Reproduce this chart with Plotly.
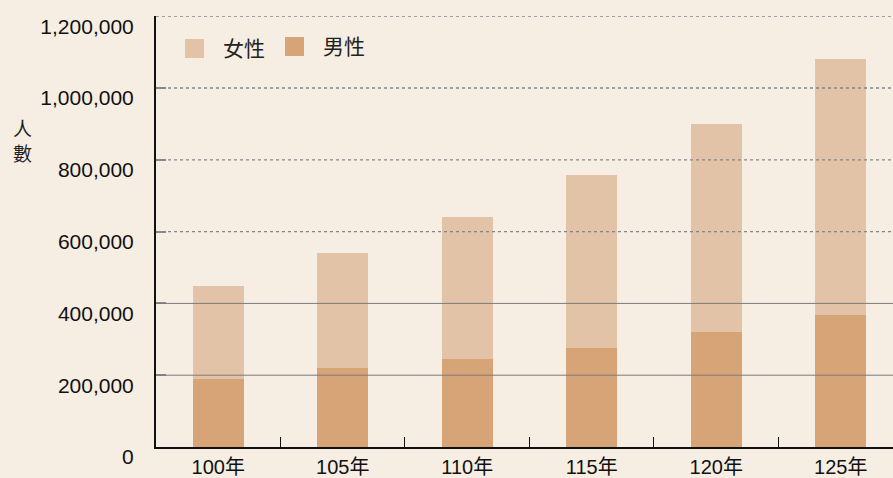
import plotly.graph_objects as go

categories = ["100年", "105年", "110年", "115年", "120年", "125年"]
male = [189000, 220000, 245000, 276000, 320000, 368000]
female = [259000, 320000, 396000, 482000, 580000, 713000]
y_ticks = [0, 200000, 400000, 600000, 800000, 1000000, 1200000]
y_tick_labels = ["0", "200,000", "400,000", "600,000", "800,000", "1,000,000", "1,200,000"]

BG = "#f6eee2"
C_MALE = "#d6a477"
C_FEMALE = "#e2c3a7"
FONT = "Liberation Sans, Arial, Noto Sans CJK TC, sans-serif"

W, H = 893, 478
ML, MR, MT, MB = 156, 0, 16, 31
PW, PH = W - ML - MR, H - MT - MB
Y_MAX = 1200000


def px_x(px):
    return (px - ML) / PW


def px_y(py):
    return (H - MB - py) / PH


fig = go.Figure()
fig.add_trace(go.Bar(x=categories, y=male, name="男性", marker_color=C_MALE,
                     width=0.41, showlegend=False, marker_line_width=0))
fig.add_trace(go.Bar(x=categories, y=female, name="女性", marker_color=C_FEMALE,
                     width=0.41, showlegend=False, marker_line_width=0))

shapes = []
# gridlines drawn above bars
for v in y_ticks[1:]:
    dotted = v >= 600000
    shapes.append(dict(type="line", xref="paper", yref="y", x0=0, x1=1, y0=v, y1=v,
                       line=dict(color="#858585" if dotted else "#7a7a7a",
                                 width=1.3 if dotted else 1,
                                 dash="dot" if dotted else "solid"),
                       layer="above"))

# manual legend
legend_items = [("女性", C_FEMALE, 185, 39), ("男性", C_MALE, 285, 37)]
annotations = []
for label, color, lx, ly in legend_items:
    shapes.append(dict(type="rect", xref="paper", yref="paper",
                       x0=px_x(lx), x1=px_x(lx + 19), y0=px_y(ly + 19), y1=px_y(ly),
                       fillcolor=color, line=dict(width=0), layer="above"))
    annotations.append(dict(xref="paper", yref="paper", x=px_x(lx + 36), y=px_y(ly + 9.5),
                            xanchor="left", yanchor="middle", showarrow=False,
                            text=label, font=dict(size=21, color="#222", family=FONT)))

annotations.append(dict(xref="paper", yref="paper", x=px_x(22), y=px_y(142),
                        xanchor="center", yanchor="middle", showarrow=False,
                        text="人<br>數", font=dict(size=19, color="#222", family=FONT)))

fig.update_layout(
    width=W, height=H,
    margin=dict(l=ML, r=MR, t=MT, b=MB, pad=0, autoexpand=False),
    paper_bgcolor=BG, plot_bgcolor=BG,
    barmode="stack",
    font=dict(family=FONT, color="#111", size=20),
    shapes=shapes, annotations=annotations,
    showlegend=False,
    xaxis=dict(type="category", range=[-0.5, 5.42], tickson="boundaries",
               ticks="inside", ticklen=10, tickwidth=1.3, tickcolor="#111",
               showline=True, linecolor="#111", linewidth=1.5, showgrid=False,
               tickfont=dict(size=20, family=FONT, color="#111"),
               ticklabelstandoff=1, zeroline=False, automargin=False),
    yaxis=dict(range=[0, Y_MAX * 1.0005], tickmode="array", tickvals=y_ticks,
               ticktext=y_tick_labels, ticks="inside", ticklen=10, tickwidth=1.5,
               tickcolor="#8a8a8a", showline=True, linecolor="#111", linewidth=2,
               showgrid=False, zeroline=False, automargin=False,
               tickfont=dict(size=21, family=FONT, color="#111"),
               ticklabelshift=10, ticklabelstandoff=16),
)

fig.write_html("out.html", config={"displayModeBar": False},
               post_script="document.body.style.margin='0';document.body.style.background='%s';" % BG)
